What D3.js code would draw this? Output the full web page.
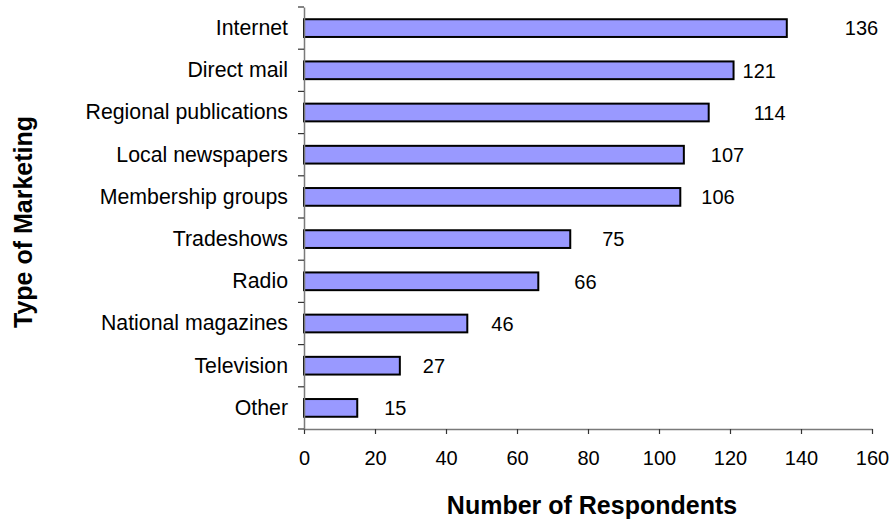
<!DOCTYPE html>
<html>
<head>
<meta charset="utf-8">
<script src="https://cdn.jsdelivr.net/npm/d3@7"></script>
<style>
  html, body { margin: 0; padding: 0; background: #fff; }
  svg { display: block; font-family: "Liberation Sans", Arial, sans-serif; }
</style>
</head>
<body>
<svg id="chart" width="894" height="522"></svg>
<script>
// Marketing channels used, by number of respondents
const categories = [
  "Internet", "Direct mail", "Regional publications", "Local newspapers",
  "Membership groups", "Tradeshows", "Radio", "National magazines",
  "Television", "Other"
];
const respondents = [136, 121, 114, 107, 106, 75, 66, 46, 27, 15];
const xTicks = [0, 20, 40, 60, 80, 100, 120, 140, 160];

// Horizontal nudge (px) of each value label past its bar end
const labelGap = [58, 9, 45, 27, 21, 32, 36, 24, 23, 27];

const svg = d3.select("#chart");
const plot = { left: 304, right: 872, top: 7, bottom: 429 };

const x = d3.scaleLinear().domain([0, 160]).range([plot.left, plot.right]);
const y = d3.scaleBand().domain(categories).range([plot.top, plot.bottom]).paddingInner(0.58).paddingOuter(0.29);

// Bars
svg.append("g").selectAll("rect")
  .data(categories)
  .join("rect")
  .attr("x", x(0))
  .attr("y", d => y(d))
  .attr("width", (d, i) => x(respondents[i]) - x(0))
  .attr("height", y.bandwidth())
  .attr("fill", "#9999ff")
  .attr("stroke", "#000")
  .attr("stroke-width", 2);

// Value labels
svg.append("g").selectAll("text")
  .data(categories)
  .join("text")
  .attr("x", (d, i) => x(respondents[i]) + labelGap[i])
  .attr("y", d => y(d) + y.bandwidth() / 2)
  .attr("dy", "0.36em")
  .attr("font-size", 20)
  .attr("fill", "#000")
  .text((d, i) => respondents[i]);

// X axis
const xAxis = svg.append("g")
  .attr("transform", `translate(0,${plot.bottom})`)
  .call(d3.axisBottom(x).tickValues(xTicks).tickSize(5).tickPadding(17).tickSizeOuter(0));
xAxis.select(".domain").attr("stroke", "#7a7a7a").attr("stroke-width", 1.5);
xAxis.selectAll(".tick line").attr("stroke", "#333").attr("stroke-width", 1.2);
xAxis.selectAll(".tick text").attr("font-size", 20).attr("fill", "#000")
  .attr("font-family", "'Liberation Sans', Arial, sans-serif");

// Y axis: category labels, with tick marks on the band boundaries
const yAxis = svg.append("g")
  .attr("transform", `translate(${plot.left},0)`)
  .call(d3.axisLeft(y).tickSize(0).tickPadding(16).tickSizeOuter(0));
yAxis.select(".domain").attr("stroke", "#7a7a7a").attr("stroke-width", 1.5);
yAxis.selectAll(".tick text").attr("font-size", 21.3).attr("fill", "#000")
  .attr("font-family", "'Liberation Sans', Arial, sans-serif");

const step = y.step();
const boundaries = d3.range(categories.length + 1).map(i => plot.top + i * step);
svg.append("g").selectAll("line")
  .data(boundaries)
  .join("line")
  .attr("x1", plot.left - 6)
  .attr("x2", plot.left)
  .attr("y1", d => d)
  .attr("y2", d => d)
  .attr("stroke", "#333")
  .attr("stroke-width", 1.2);

// Axis titles
svg.append("text")
  .attr("x", (plot.left + plot.right) / 2 + 4)
  .attr("y", 514)
  .attr("text-anchor", "middle")
  .attr("font-size", 25)
  .attr("font-weight", "bold")
  .text("Number of Respondents");

svg.append("text")
  .attr("transform", `translate(32,${(plot.top + plot.bottom) / 2 + 4}) rotate(-90)`)
  .attr("text-anchor", "middle")
  .attr("font-size", 25)
  .attr("font-weight", "bold")
  .text("Type of Marketing");
</script>
</body>
</html>
